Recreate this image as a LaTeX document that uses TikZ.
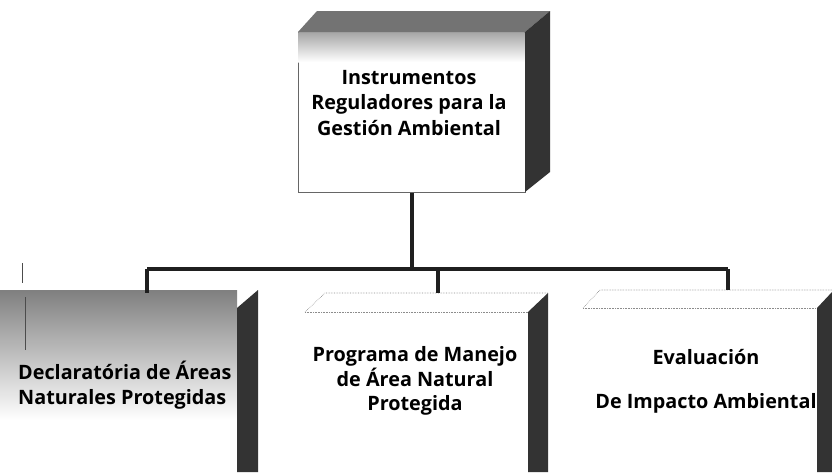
\documentclass[tikz,border=0pt]{standalone}
\usepackage{fontspec}
\setmainfont{Open Sans}
\begin{document}
\begin{tikzpicture}[x=1pt,y=-1pt,
  conn/.style={line width=4pt, draw=black!88},
  lbl/.style={font=\fontsize{19.8}{24.5}\selectfont\bfseries, align=center, inner sep=0pt},
  frontface/.style={draw=black!60, line width=0.6pt, fill=white, inner sep=0pt, anchor=north west},
  sideface/.style={fill=black!80, draw=none},
  topface/.style={fill=black!55, draw=none},
  faintedge/.style={draw=black!45, line width=0.6pt, densely dotted},
  scanmark/.style={draw=black!70, line width=0.7pt}]
\useasboundingbox (0,0) rectangle (832,472);
\clip (0,0) rectangle (832,472);
\fill[white] (0,0) rectangle (832,472);

% ---- top box ----
\node[frontface, minimum width=227pt, minimum height=160pt] (top) at (298,32) {};
\shade[top color=black!35, bottom color=white] (298.3,32.3) rectangle (524.7,62);
\fill[topface] (298,32) -- (317,11) -- (550,11) -- (525,32) -- cycle;
\fill[sideface] (525,32) -- (550,11) -- (550,172) -- (525,192) -- cycle;
\node[lbl, font=\fontsize{19.8}{25.5}\selectfont\bfseries] (toptxt) at (409,103) {Instrumentos\\Reguladores para la\\Gestión Ambiental};

% ---- left box ----
\node[frontface, draw=none, minimum width=237pt, minimum height=170pt] (lbox) at (0,308) {};
\shade[top color=black!50, bottom color=white] (0,290) rectangle (237,420);
\fill[sideface] (237,308) -- (258,290) -- (258,472) -- (237,472) -- cycle;
\node[lbl, align=left, anchor=west] (ltxt) at (18,385) {Declaratória de Áreas\\Naturales Protegidas};

% ---- middle box ----
\node[frontface, draw=none, minimum width=223pt, minimum height=165pt] (mbox) at (305,312) {};
\draw[faintedge] (305,312) -- (325,293) -- (548,293);
\draw[faintedge] (305,312) -- (528,312);
\fill[sideface] (528,312) -- (548,293) -- (548,472) -- (528,472) -- cycle;
\node[lbl] (mtxt) at (415,381) {Programa de Manejo\\de Área Natural\\Protegida};

% ---- right box ----
\node[frontface, draw=none, minimum width=234pt, minimum height=165pt] (rbox) at (583,308) {};
\draw[faintedge] (583,308) -- (600,290) -- (832,290);
\draw[faintedge] (583,308) -- (817,308);
\fill[sideface] (817,308) -- (832,292) -- (832,472) -- (817,472) -- cycle;
\node[lbl] (rtxt1) at (706,357) {Evaluación};
\node[lbl] (rtxt2) at (706,403) {De Impacto Ambiental};

% ---- connectors ----
\coordinate (barL) at (147,269);
\coordinate (barR) at (728,269);
\coordinate (ltop) at (147,293);
\coordinate (mtop) at (438,293);
\coordinate (rtop) at (728,290);
\draw[conn] (top.south) -- (top.south |- barL);
\draw[conn] (barL) -- (barR);
\draw[conn] (barL) -- (ltop);
\draw[conn] (mtop |- barL) -- (mtop);
\draw[conn] (barR) -- (rtop);

% ---- scan marks ----
\draw[scanmark] (22,263) -- (22,283);
\draw[scanmark] (25,297) -- (25,350);
\end{tikzpicture}
\end{document}
